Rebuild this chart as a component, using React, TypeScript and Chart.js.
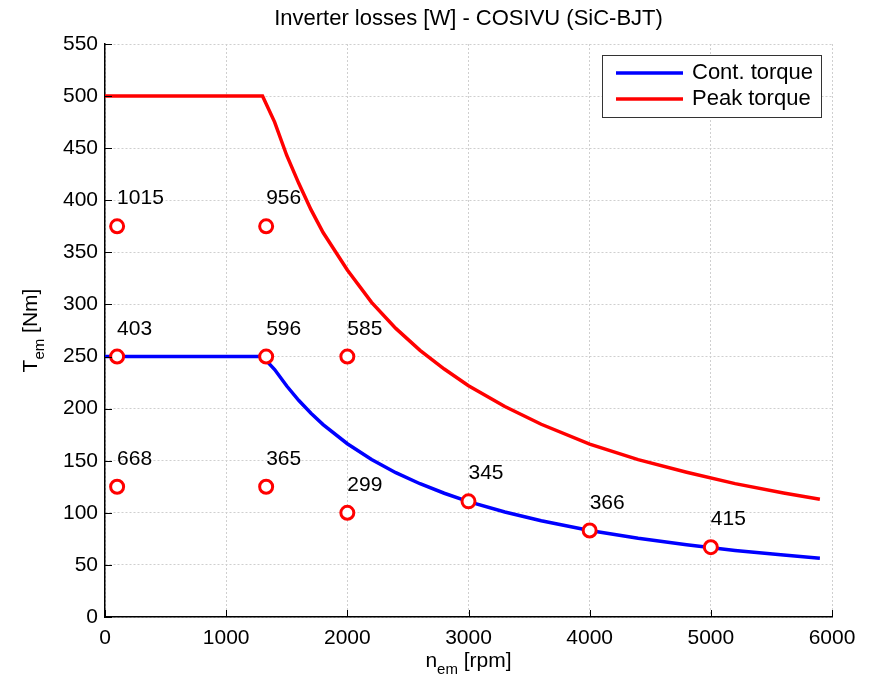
import React, { useEffect, useRef } from "react";
import { Chart, registerables } from "chart.js";

Chart.register(...registerables);

const titleText = "Inverter losses [W] - COSIVU (SiC-BJT)";
const xTicks = [0, 1000, 2000, 3000, 4000, 5000, 6000];
const yTicks = [0, 50, 100, 150, 200, 250, 300, 350, 400, 450, 500, 550];

const speedRpm = [0, 1300, 1400, 1500, 1600, 1700, 1800, 2000, 2200, 2400, 2600, 2800, 3000, 3300, 3600, 4000, 4400, 4800, 5200, 5600, 5900];
const contTorque = [250, 250, 237.5, 221.7, 207.8, 195.6, 184.7, 166.3, 151.1, 138.5, 127.9, 118.8, 110.8, 100.8, 92.4, 83.1, 75.6, 69.3, 63.9, 59.4, 56.4];
const peakTorque = [500, 500, 475, 443, 416, 391, 369, 333, 302, 277, 256, 238, 222, 202, 185, 166, 151, 139, 128, 119, 113];

const opSpeed = [100, 1330, 100, 1330, 2000, 100, 1330, 2000, 3000, 4000, 5000];
const opTorque = [375, 375, 250, 250, 250, 125, 125, 100, 111, 83, 67];
const opLosses = ["1015", "956", "403", "596", "585", "668", "365", "299", "345", "366", "415"];

const FONT = "'Liberation Sans', Arial, sans-serif";

export default function App() {
  const ref = useRef<HTMLCanvasElement | null>(null);

  useEffect(() => {
    document.body.style.margin = "0";
    const canvas = ref.current!;
    const overlay = {
      id: "overlay",
      afterDraw(chart: any) {
        const ctx = chart.ctx;
        const area = chart.chartArea;
        const xs = chart.scales.x;
        const ys = chart.scales.y;
        ctx.save();
        // title centred over the plot area
        const cx = (area.left + area.right) / 2;
        ctx.fillStyle = "#000";
        ctx.font = `22px ${FONT}`;
        ctx.textAlign = "center";
        ctx.textBaseline = "middle";
        ctx.fillText(titleText, cx, 19);
        // inward ticks
        ctx.strokeStyle = "#000";
        ctx.lineWidth = 1;
        ctx.beginPath();
        for (const t of xTicks) {
          const px = Math.round(xs.getPixelForValue(t)) + 0.5;
          ctx.moveTo(px, area.bottom);
          ctx.lineTo(px, area.bottom - 7);
        }
        for (const t of yTicks) {
          const py = Math.round(ys.getPixelForValue(t)) + 0.5;
          ctx.moveTo(area.left, py);
          ctx.lineTo(area.left + 7, py);
        }
        ctx.stroke();
        // data labels
        ctx.fillStyle = "#000";
        ctx.font = `21px ${FONT}`;
        ctx.textAlign = "left";
        ctx.textBaseline = "alphabetic";
        for (let i = 0; i < opSpeed.length; i++) {
          const px = xs.getPixelForValue(opSpeed[i]);
          const py = ys.getPixelForValue(opTorque[i]);
          ctx.fillText(opLosses[i], px, py - 22);
        }
        // axis titles with subscripts
        const big = `21px ${FONT}`;
        const small = `15px ${FONT}`;
        ctx.font = big;
        const wN = ctx.measureText("n").width;
        const wR = ctx.measureText(" [rpm]").width;
        ctx.font = small;
        const wE = ctx.measureText("em").width;
        const x0 = cx - (wN + wE + wR) / 2;
        const by = 667;
        ctx.font = big;
        ctx.fillText("n", x0, by);
        ctx.font = small;
        ctx.fillText("em", x0 + wN, by + 7);
        ctx.font = big;
        ctx.fillText(" [rpm]", x0 + wN + wE, by);

        const cy = (area.top + area.bottom) / 2;
        ctx.save();
        ctx.translate(37, cy);
        ctx.rotate(-Math.PI / 2);
        ctx.font = big;
        const wT = ctx.measureText("T").width;
        const wNm = ctx.measureText(" [Nm]").width;
        ctx.font = small;
        const wE2 = ctx.measureText("em").width;
        const y0 = -(wT + wE2 + wNm) / 2;
        ctx.font = big;
        ctx.fillText("T", y0, 0);
        ctx.font = small;
        ctx.fillText("em", y0 + wT, 7);
        ctx.font = big;
        ctx.fillText(" [Nm]", y0 + wT + wE2, 0);
        ctx.restore();

        // legend
        const lx = 602, ly = 55, lw = 219, lh = 62;
        ctx.fillStyle = "#fff";
        ctx.fillRect(lx, ly, lw, lh);
        ctx.strokeStyle = "#333";
        ctx.lineWidth = 1;
        ctx.strokeRect(lx + 0.5, ly + 0.5, lw, lh);
        const items = chart.data.datasets.slice(0, 2);
        items.forEach((d: any, i: number) => {
          const yy = ly + 18 + i * 26;
          ctx.strokeStyle = d.borderColor;
          ctx.lineWidth = 3.5;
          ctx.beginPath();
          ctx.moveTo(lx + 14, yy);
          ctx.lineTo(lx + 81, yy);
          ctx.stroke();
          ctx.fillStyle = "#000";
          ctx.font = `22px ${FONT}`;
          ctx.textBaseline = "middle";
          ctx.fillText(d.label, lx + 90, yy);
        });
        ctx.restore();
      },
    };

    const chart = new Chart(canvas, {
      type: "line",
      data: {
        datasets: [
          {
            label: "Cont. torque",
            data: speedRpm.map((x, i) => ({ x, y: contTorque[i] })),
            borderColor: "#0000ff",
            borderWidth: 3.5,
            pointRadius: 0,
            tension: 0,
            order: 3,
          },
          {
            label: "Peak torque",
            data: speedRpm.map((x, i) => ({ x, y: peakTorque[i] })),
            borderColor: "#ff0000",
            borderWidth: 3.5,
            pointRadius: 0,
            tension: 0,
            order: 2,
          },
          {
            label: "Operating points",
            data: opSpeed.map((x, i) => ({ x, y: opTorque[i] })),
            showLine: false,
            borderColor: "#ff0000",
            backgroundColor: "#ffffff",
            pointRadius: 6.5,
            pointBorderWidth: 3,
            pointBackgroundColor: "#ffffff",
            pointBorderColor: "#ff0000",
            order: 1,
          },
        ],
      },
      options: {
        animation: false,
        responsive: false,
        maintainAspectRatio: false,
        layout: { padding: { left: 0, right: 41, top: 44, bottom: 0 } },
        plugins: {
          legend: { display: false },
          tooltip: { enabled: false },
          title: { display: false },
        },
        scales: {
          x: {
            type: "linear",
            min: 0,
            max: 6000,
            afterFit: (s: any) => {
              s.height = 67;
            },
            afterBuildTicks: (s: any) => {
              s.ticks = xTicks.map((v) => ({ value: v }));
            },
            ticks: {
              color: "#000",
              font: { family: FONT, size: 21 },
              padding: 9,
              maxRotation: 0,
              callback: (v: any) => String(v),
            },
            grid: { color: "#cfcfcf", drawTicks: false, tickLength: 0, lineWidth: 1 },
            border: { display: true, color: "#000", width: 1.5, dash: [2, 2] },
          },
          y: {
            type: "linear",
            min: 0,
            max: 550,
            afterFit: (s: any) => {
              s.width = 105;
            },
            afterBuildTicks: (s: any) => {
              s.ticks = yTicks.map((v) => ({ value: v }));
            },
            ticks: {
              color: "#000",
              font: { family: FONT, size: 21 },
              padding: 7,
              callback: (v: any) => String(v),
            },
            grid: { color: "#cfcfcf", drawTicks: false, tickLength: 0, lineWidth: 1 },
            border: { display: true, color: "#000", width: 1.5, dash: [2, 2] },
          },
        },
      },
      plugins: [overlay],
    });
    return () => chart.destroy();
  }, []);

  return (
    <div style={{ width: 873, height: 684, background: "#fff" }}>
      <canvas ref={ref} width={873} height={684} style={{ display: "block" }} />
    </div>
  );
}
